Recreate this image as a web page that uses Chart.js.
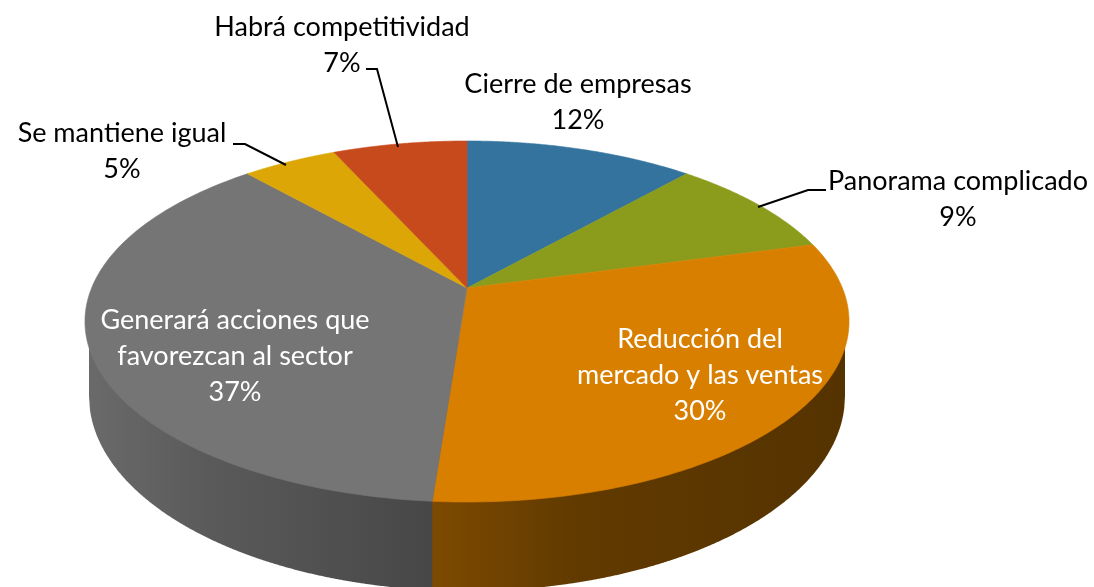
<!DOCTYPE html>
<html><head><meta charset="utf-8">
<style>html,body{margin:0;padding:0;background:#fff}canvas{display:block}</style>
<script src="https://cdn.jsdelivr.net/npm/chart.js@4"></script>
</head><body>
<canvas id="c" width="1094" height="587"></canvas>
<script>
const categories = ["Cierre de empresas","Panorama complicado","Reducción del mercado y las ventas","Generará acciones que favorezcan al sector","Se mantiene igual","Habrá competitividad"];
const shares = [11.6, 9.2, 30.4, 37.2, 4.8, 6.8];
const colors = ["#33739e","#8b9c1c","#d87f00","#757575","#dca606","#c74a1d"];

const P = {cx:467, cy:288, g:375.4, h:174.3, w:0.1856, bx:467, by:396, brx:378, bry:195};
const FONT = '27px Lato, Carlito, sans-serif';
const LINE = 36;
const labelLayout = [
 {lines:["Cierre de empresas"], x:578, y:84, color:"#000"},
 {lines:["Panorama complicado"], x:958, y:181, color:"#000", leader:[[826,190],[808,190],[758,207]]},
 {lines:["Reducción del","mercado y las ventas"], x:700, y:339, color:"#fff"},
 {lines:["Generará acciones que","favorezcan al sector"], x:235, y:320, color:"#fff"},
 {lines:["Se mantiene igual"], x:122, y:133, color:"#000", leader:[[233,144],[245,144],[286,165]]},
 {lines:["Habrá competitividad"], x:342, y:27, color:"#000", leader:[[366,69],[377,69],[398,147]]}
];
function project(a){ // chart angle -> point on the tilted rim
  const t=a+Math.PI/2, u=Math.sin(t), v=Math.cos(t), d=1+P.w*v;
  return [P.cx+P.g*u/d, P.cy-P.h*v/d];
}
const tilted3d = {
  id:'tilted3d',
  beforeDatasetDraw(chart,args){
    const ctx=chart.ctx, arcs=args.meta.data;
    ctx.save();
    const split=project(arcs[2].endAngle);
    const bottom=(x)=>{const f=(x-P.bx)/P.brx;return P.by+P.bry*Math.sqrt(Math.max(0,1-f*f));};
    const drawWall=(xa,xb,fill)=>{
      ctx.beginPath();
      ctx.moveTo(xa,340);
      for(let x=xa;x<=xb;x+=1){ctx.lineTo(x,bottom(x));}
      ctx.lineTo(xb,bottom(xb));
      ctx.lineTo(xb,340);
      ctx.closePath();
      ctx.fillStyle=fill;ctx.fill();
    };
    const left=P.bx-P.brx, right=P.bx+P.brx, sx=split[0];
    const gg=ctx.createLinearGradient(left,0,sx,0);
    gg.addColorStop(0,"#6a6a6a");gg.addColorStop(.35,"#5a5a5a");gg.addColorStop(1,"#474747");
    const gb=ctx.createLinearGradient(sx,0,right,0);
    gb.addColorStop(0,"#7d4a00");gb.addColorStop(.35,"#613a00");gb.addColorStop(1,"#553300");
    drawWall(left,sx+1.5,gg);drawWall(sx,right,gb);
    arcs.forEach((el,i)=>{
      ctx.beginPath();
      ctx.moveTo(P.cx,P.cy);
      const n=120;
      for(let k=0;k<=n;k++){
        const p=project(el.startAngle+(el.endAngle-el.startAngle)*k/n);
        ctx.lineTo(p[0],p[1]);
      }
      ctx.closePath();
      ctx.fillStyle=colors[i];ctx.fill();
      ctx.strokeStyle=colors[i];ctx.lineWidth=.6;ctx.stroke();
    });
    ctx.restore();
    return false;
  },
  afterDraw(chart){
    const ctx=chart.ctx, total=shares.reduce((a,b)=>a+b,0);
    ctx.save();
    ctx.font=FONT;ctx.textAlign='center';ctx.textBaseline='middle';
    labelLayout.forEach((l,i)=>{
      const lines=l.lines.concat([Math.round(shares[i]/total*100)+'%']);
      ctx.fillStyle=l.color;
      lines.forEach((s,k)=>ctx.fillText(s,l.x,l.y+k*LINE));
      if(l.leader){
        ctx.beginPath();
        l.leader.forEach((p,k)=>k?ctx.lineTo(p[0],p[1]):ctx.moveTo(p[0],p[1]));
        ctx.strokeStyle='#000';ctx.lineWidth=2;ctx.stroke();
      }
    });
    ctx.restore();
  }
};
new Chart(document.getElementById('c'),{
  type:'pie',
  data:{labels:categories,datasets:[{data:shares,backgroundColor:colors,borderWidth:0}]},
  options:{responsive:false,animation:false,plugins:{legend:{display:false},tooltip:{enabled:false}}},
  plugins:[tilted3d]
});
</script>
</body></html>
